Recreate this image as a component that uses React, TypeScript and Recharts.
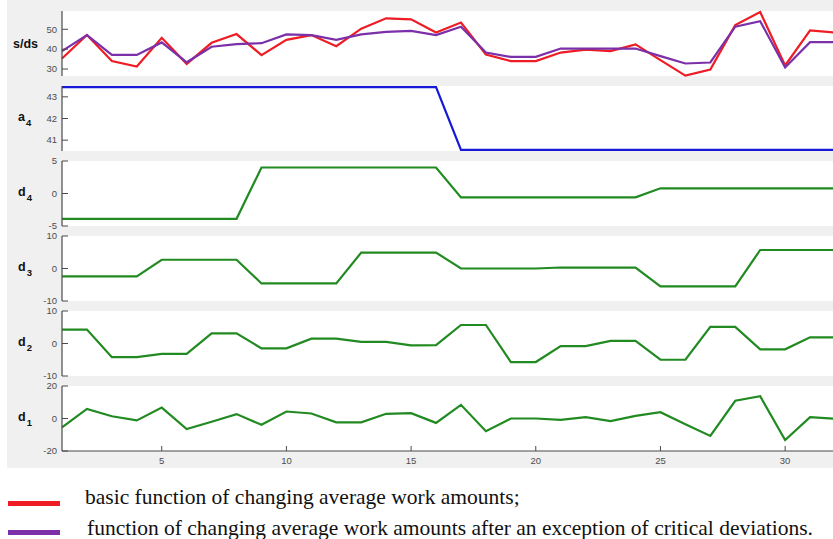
import React from 'react';
import { LineChart, Line, XAxis, YAxis, CartesianGrid } from 'recharts';

const steps = [1, 2, 3, 4, 5, 6, 7, 8, 9, 10, 11, 12, 13, 14, 15, 16, 17, 18, 19, 20, 21, 22, 23, 24, 25, 26, 27, 28, 29, 30, 31, 32];
const xTicks = [5, 10, 15, 20, 25, 30];

const basicSds = [35.3, 47.1, 34, 31.3, 45.7, 32.6, 43.2, 47.6, 37, 44.7, 47.1, 41.5, 50.3, 55.5, 55, 48.4, 53.4, 37.3, 34, 34, 38.3, 39.8, 39, 42.4, 34.5, 26.7, 29.7, 52.1, 58.7, 31.8, 49.4, 48.4];
const filteredSds = [39, 47.1, 37.1, 37.1, 43.4, 33.4, 41.2, 42.5, 43, 47.4, 47.1, 44.7, 47.4, 48.7, 49.2, 47.1, 51.3, 38.3, 36.1, 36.1, 40.3, 40.3, 40.3, 40.3, 36.5, 32.8, 33.3, 51.3, 54.1, 30.8, 43.5, 43.5];
const a4 = [43.45, 43.45, 43.45, 43.45, 43.45, 43.45, 43.45, 43.45, 43.45, 43.45, 43.45, 43.45, 43.45, 43.45, 43.45, 43.45, 40.55, 40.55, 40.55, 40.55, 40.55, 40.55, 40.55, 40.55, 40.55, 40.55, 40.55, 40.55, 40.55, 40.55, 40.55, 40.55];
const d4 = [-3.9, -3.9, -3.9, -3.9, -3.9, -3.9, -3.9, -3.9, 4, 4, 4, 4, 4, 4, 4, 4, -0.6, -0.6, -0.6, -0.6, -0.6, -0.6, -0.6, -0.6, 0.8, 0.8, 0.8, 0.8, 0.8, 0.8, 0.8, 0.8];
const d3 = [-2.4, -2.4, -2.4, -2.4, 2.7, 2.7, 2.7, 2.7, -4.6, -4.6, -4.6, -4.6, 4.9, 4.9, 4.9, 4.9, 0, 0, 0, 0, 0.3, 0.3, 0.3, 0.3, -5.5, -5.5, -5.5, -5.5, 5.7, 5.7, 5.7, 5.7];
const d2 = [4.3, 4.3, -4.2, -4.2, -3.2, -3.2, 3.1, 3.1, -1.5, -1.5, 1.5, 1.5, 0.5, 0.5, -0.6, -0.5, 5.7, 5.7, -5.7, -5.7, -0.8, -0.8, 0.8, 0.8, -5, -5, 5.1, 5.1, -1.8, -1.8, 1.9, 1.9];
const d1 = [-5.5, 5.9, 1.4, -1.2, 6.7, -6.5, -2, 2.7, -3.9, 4.3, 3.1, -2.4, -2.4, 2.9, 3.3, -2.7, 8.4, -7.8, 0, 0, -0.8, 0.8, -1.6, 1.6, 3.9, -3.5, -10.7, 10.9, 13.7, -13.3, 0.8, -0.2];

const sdsTicks = [30, 40, 50];
const a4Ticks = [41, 42, 43];
const d4Ticks = [-5, 0, 5];
const d3Ticks = [-10, 0, 10];
const d2Ticks = [-10, 0, 10];
const d1Ticks = [-20, 0, 20];

const legendLabels = [
  'basic function of changing average work amounts;',
  'function of changing average work amounts after an exception of critical deviations.',
];

const rows = steps.map((x, i) => ({
  x,
  basic: basicSds[i],
  filtered: filteredSds[i],
  a4: a4[i],
  d4: d4[i],
  d3: d3[i],
  d2: d2[i],
  d1: d1[i],
}));

const AX = '#4a4a4a';
const TICK_TXT = '#4d4d4d';
const GREEN = '#218a21';

const LeftTick = (props: any) => {
  const { x, y, payload } = props;
  return (
    <g>
      <line x1={x} y1={y} x2={x + 6} y2={y} stroke={AX} strokeWidth={1} />
      <text x={x - 5} y={y} dy="0.35em" textAnchor="end" fontSize={9.5} fill={TICK_TXT} fontFamily="Liberation Sans, Arial, sans-serif">
        {payload.value}
      </text>
    </g>
  );
};

const RightTick = (props: any) => {
  const { x, y } = props;
  return <line x1={x} y1={y} x2={x - 6} y2={y} stroke={AX} strokeWidth={1} />;
};

const TopTick = (props: any) => {
  const { x, y } = props;
  return <line x1={x} y1={y} x2={x} y2={y + 5} stroke={AX} strokeWidth={1} />;
};

const makeBottomTick = (showLabel: boolean) => (props: any) => {
  const { x, y, payload } = props;
  return (
    <g>
      <line x1={x} y1={y} x2={x} y2={y - 5} stroke={AX} strokeWidth={1} />
      {showLabel && (
        <text x={x} y={y + 10} dy="0.35em" textAnchor="middle" fontSize={9.5} fill={TICK_TXT} fontFamily="Liberation Sans, Arial, sans-serif">
          {payload.value}
        </text>
      )}
    </g>
  );
};

type Series = { key: string; color: string };

const Panel = ({ top, height, series, domain, ticks, showXLabels }: { top: number; height: number; series: Series[]; domain: [number, number]; ticks: number[]; showXLabels?: boolean }) => {
  const bottomH = showXLabels ? 20 : 0;
  return (
    <div style={{ position: 'absolute', left: 0, top, width: 835, height: height + bottomH }}>
      <LineChart width={835} height={height + bottomH} data={rows} margin={{ top: 0, right: 0, bottom: 0, left: 0 }}>
        <CartesianGrid fill="#ffffff" horizontal={false} vertical={false} />
        <XAxis
          dataKey="x"
          type="number"
          domain={[1, 32]}
          ticks={xTicks}
          height={bottomH}
          tickSize={0}
          tickMargin={0}
          tickLine={false}
          axisLine={{ stroke: AX, strokeWidth: 1.2 }}
          tick={makeBottomTick(!!showXLabels)}
          interval={0}
        />
        <XAxis
          xAxisId="top"
          orientation="top"
          dataKey="x"
          type="number"
          domain={[1, 32]}
          ticks={xTicks}
          height={0}
          tickSize={0}
          tickMargin={0}
          tickLine={false}
          axisLine={{ stroke: AX, strokeWidth: 1.2 }}
          tick={TopTick}
          interval={0}
        />
        <YAxis
          type="number"
          domain={domain}
          ticks={ticks}
          width={62}
          tickSize={0}
          tickMargin={0}
          tickLine={false}
          axisLine={{ stroke: AX, strokeWidth: 1.2 }}
          tick={LeftTick}
          interval={0}
        />
        <YAxis
          yAxisId="right"
          orientation="right"
          type="number"
          domain={domain}
          ticks={ticks}
          width={0}
          tickSize={0}
          tickMargin={0}
          tickLine={false}
          axisLine={{ stroke: AX, strokeWidth: 1.2 }}
          tick={RightTick}
          interval={0}
        />
        {series.map((s) => (
          <Line key={s.key} type="linear" dataKey={s.key} stroke={s.color} strokeWidth={2.2} dot={false} isAnimationActive={false} />
        ))}
      </LineChart>
    </div>
  );
};

const labelStyle: React.CSSProperties = {
  position: 'absolute',
  fontFamily: 'Liberation Sans, Arial, sans-serif',
  fontWeight: 'bold',
  fontSize: 12.5,
  color: '#111',
  lineHeight: '12px',
  whiteSpace: 'nowrap',
};

const SubLabel = ({ top, base, sub }: { top: number; base: string; sub: string }) => (
  <div style={{ ...labelStyle, left: 18, top }}>
    {base}
    <span style={{ fontSize: 9.5, position: 'relative', top: 5, left: 1 }}>{sub}</span>
  </div>
);

const legendText: React.CSSProperties = {
  position: 'absolute',
  fontFamily: 'Liberation Serif, Times New Roman, serif',
  fontSize: 21.5,
  lineHeight: '24px',
  color: '#111',
  whiteSpace: 'nowrap',
};

export default function App() {
  const panelTops = [11, 86, 161, 236, 311, 386];
  const H = 65;
  return (
    <div style={{ position: 'fixed', left: 0, top: 0, width: 833, height: 539, overflow: 'hidden', background: '#ffffff' }}>
      <style>{'.recharts-surface{overflow:visible}'}</style>
      <div style={{ position: 'absolute', left: 7, top: 0, width: 826, height: 468, background: '#f0f0f0' }} />
      <Panel top={panelTops[0]} height={H} series={[{ key: 'basic', color: '#ee1c24' }, { key: 'filtered', color: '#7b2fa8' }]} domain={[26.5, 59.2]} ticks={sdsTicks} />
      <Panel top={panelTops[1]} height={H} series={[{ key: 'a4', color: '#1818d8' }]} domain={[40.5, 43.5]} ticks={a4Ticks} />
      <Panel top={panelTops[2]} height={H} series={[{ key: 'd4', color: GREEN }]} domain={[-5, 5]} ticks={d4Ticks} />
      <Panel top={panelTops[3]} height={H} series={[{ key: 'd3', color: GREEN }]} domain={[-10, 10]} ticks={d3Ticks} />
      <Panel top={panelTops[4]} height={H} series={[{ key: 'd2', color: GREEN }]} domain={[-10, 10]} ticks={d2Ticks} />
      <Panel top={panelTops[5]} height={H} series={[{ key: 'd1', color: GREEN }]} domain={[-20, 20]} ticks={d1Ticks} showXLabels />

      <div style={{ ...labelStyle, left: 13, top: 38 }}>s/ds</div>
      <SubLabel top={111} base="a" sub="4" />
      <SubLabel top={186} base="d" sub="4" />
      <SubLabel top={261} base="d" sub="3" />
      <SubLabel top={336} base="d" sub="2" />
      <SubLabel top={411} base="d" sub="1" />

      <div style={{ position: 'absolute', left: 8, top: 501, width: 52, height: 5, background: '#ee1c24' }} />
      <div style={{ position: 'absolute', left: 8, top: 530, width: 52, height: 5, background: '#7b2fa8' }} />
      <div style={{ ...legendText, left: 85, top: 485 }}>{legendLabels[0]}</div>
      <div style={{ ...legendText, left: 87, top: 516 }}>{legendLabels[1]}</div>
    </div>
  );
}
